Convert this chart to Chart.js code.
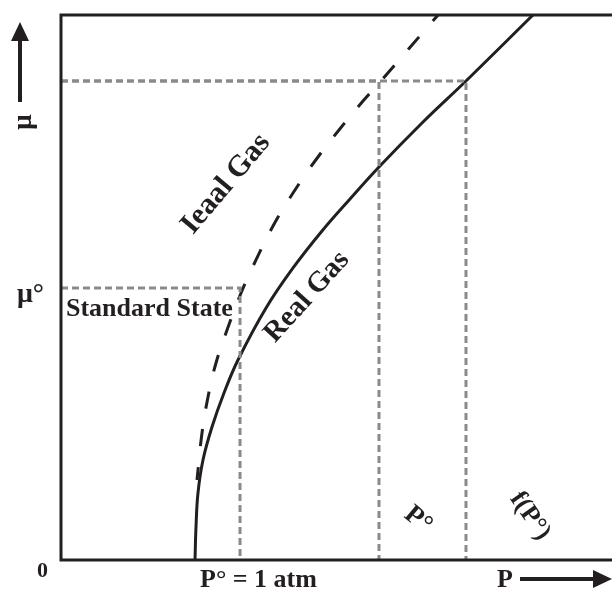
<!DOCTYPE html>
<html>
<head>
<meta charset="utf-8">
<script src="https://cdn.jsdelivr.net/npm/chart.js@4.4.0/dist/chart.umd.min.js"></script>
<style>
    body { margin: 0; background: #fff; }
    #chart { display: block; }
</style>
</head>
<body>
<canvas id="chart" width="612" height="589"></canvas>
<script>
// Pressure (P) and chemical potential (mu) in arbitrary units

// Real gas curve
const realP  = [24.32, 24.50, 24.86, 25.77, 27.40, 29.58, 32.12, 37.21, 42.11, 47.37, 52.45, 57.71, 65.70, 73.50, 85.66];
const realMu = [0, 6.06, 12.29, 18.35, 24.40, 30.64, 36.70, 46.24, 53.58, 60.37, 66.24, 72.11, 80.37, 87.89, 100];

// Ideal gas curve (dashed)
const idealP  = [24.68, 25.59, 26.68, 28.13, 30.13, 32.67, 35.39, 38.48, 42.11, 46.10, 50.45, 54.81, 57.89, 68.42];
const idealMu = [14.68, 23.30, 29.91, 36.15, 42.20, 48.99, 55.05, 61.28, 67.34, 73.21, 78.90, 84.22, 87.71, 100];

// Guide lines: P° = 1 atm, P°, f(P°) and the mu level each one reaches
const guideP  = [32.49, 57.71, 73.50];
const guideMu = [49.91, 87.89, 87.89];

const ink = '#231f20';
const guideGray = '#8a8a8a';
const serif = '"Liberation Serif", "Times New Roman", serif';

function toPoints(xs, ys) {
    return xs.map((x, i) => ({ x: x, y: ys[i] }));
}

// One horizontal + one vertical dashed segment for each guide
const guideSets = [];
guideP.forEach((p, i) => {
    guideSets.push({
        data: [{ x: 0, y: guideMu[i] }, { x: p, y: guideMu[i] }, { x: p, y: 0 }],
        borderColor: guideGray,
        borderWidth: 3,
        borderDash: [7, 4],
        showLine: true,
        pointRadius: 0,
        tension: 0
    });
});

// Frame lines and all the text labels
const decorations = {
    id: 'decorations',
    afterDraw(chart) {
        const ctx = chart.ctx;
        const a = chart.chartArea;
        ctx.save();

        // left, top and bottom axis lines
        ctx.strokeStyle = ink;
        ctx.lineWidth = 3;
        ctx.beginPath();
        ctx.moveTo(a.right, a.top);
        ctx.lineTo(a.left, a.top);
        ctx.lineTo(a.left, a.bottom);
        ctx.lineTo(a.right, a.bottom);
        ctx.stroke();

        // up arrow for mu
        ctx.fillStyle = ink;
        ctx.fillRect(18, 40, 4, 62);
        ctx.beginPath();
        ctx.moveTo(20, 22);
        ctx.lineTo(29, 41);
        ctx.lineTo(11, 41);
        ctx.closePath();
        ctx.fill();

        // right arrow for P
        ctx.fillRect(520, 577, 76, 4);
        ctx.beginPath();
        ctx.moveTo(612, 579);
        ctx.lineTo(593, 570);
        ctx.lineTo(593, 588);
        ctx.closePath();
        ctx.fill();

        ctx.textBaseline = 'alphabetic';
        ctx.textAlign = 'left';
        ctx.font = 'bold 26px ' + serif;
        ctx.fillText('Standard State', 66, 316);
        ctx.fillText('P\u00b0 = 1 atm', 200, 587);
        ctx.fillText('P', 497, 587);
        ctx.font = 'bold 28px ' + serif;
        ctx.fillText('\u03bc\u00b0', 17, 302);
        ctx.font = 'bold 22px ' + serif;
        ctx.fillText('0', 37, 577);

        // rotated labels
        const rotated = [
            ['\u03bc', 24, 122, -90, 27],
            ['Ieaal Gas', 226, 184, -50, 30],
            ['Real Gas', 307, 297, -48, 29],
            ['P\u00b0', 418, 520, 40, 27],
            ['f(P\u00b0)', 530, 516, 55, 26]
        ];
        ctx.textAlign = 'center';
        ctx.textBaseline = 'middle';
        rotated.forEach(r => {
            ctx.save();
            ctx.translate(r[1], r[2]);
            ctx.rotate(r[3] * Math.PI / 180);
            ctx.font = 'bold ' + r[4] + 'px ' + serif;
            ctx.fillText(r[0], 0, 0);
            ctx.restore();
        });

        ctx.restore();
    }
};

new Chart(document.getElementById('chart'), {
    type: 'scatter',
    data: {
        datasets: guideSets.concat([
            {
                data: toPoints(idealP, idealMu),
                borderColor: ink,
                borderWidth: 3,
                borderDash: [17, 21],
                borderDashOffset: 4,
                showLine: true,
                pointRadius: 0,
                tension: 0.4
            },
            {
                data: toPoints(realP, realMu),
                borderColor: ink,
                borderWidth: 3,
                showLine: true,
                pointRadius: 0,
                tension: 0.4
            }
        ])
    },
    options: {
        responsive: false,
        animation: false,
        events: [],
        layout: { padding: { left: 61, top: 15, right: 0, bottom: 29 } },
        plugins: {
            legend: { display: false },
            tooltip: { enabled: false }
        },
        scales: {
            x: { type: 'linear', min: 0, max: 100, display: false },
            y: { type: 'linear', min: 0, max: 100, display: false }
        }
    },
    plugins: [decorations]
});
</script>
</body>
</html>
